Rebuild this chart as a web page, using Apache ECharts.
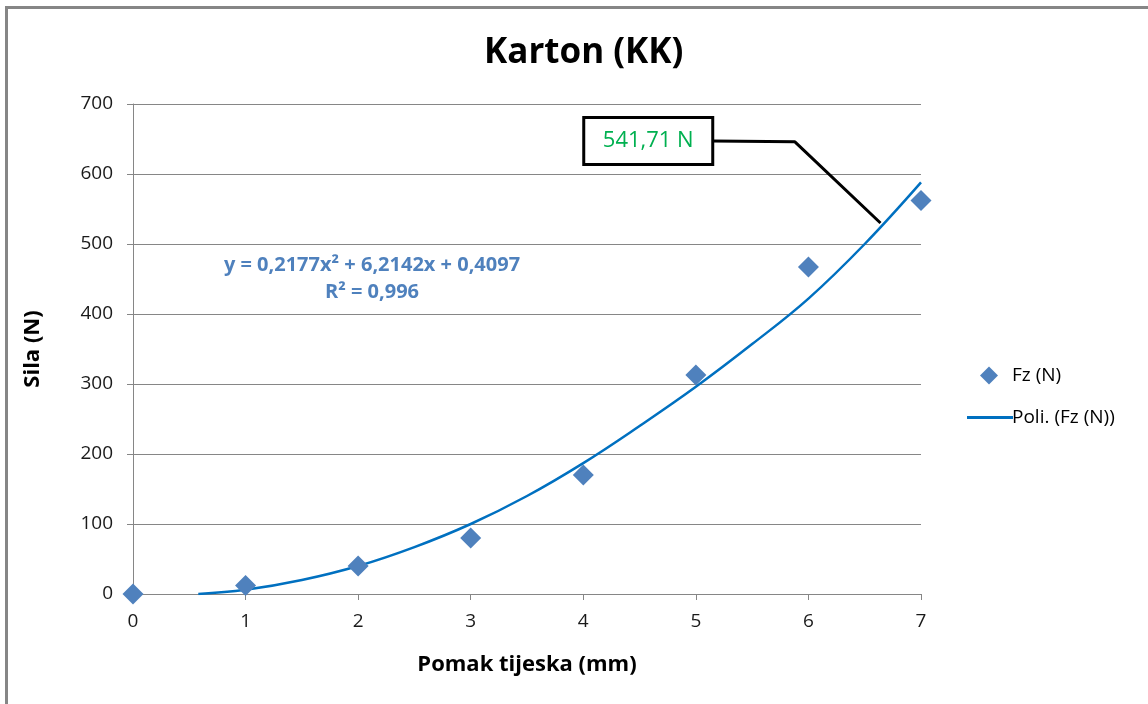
<!DOCTYPE html>
<html>
<head>
<meta charset="utf-8">
<script src="https://cdn.jsdelivr.net/npm/echarts@6/dist/echarts.min.js"></script>
<style>
  html, body { margin: 0; padding: 0; background: #fff; }
  #chart { width: 1148px; height: 704px; }
</style>
</head>
<body>
<div id="chart"></div>
<script>
// measured points
const pomak = [0, 1, 2, 3, 4, 5, 6, 7];
const sila = [0, 12, 40, 80, 170, 313, 467, 562];

// trendline
const trendX = [0.58, 1, 1.5, 2, 2.5, 3, 3.5, 4, 4.5, 5, 5.5, 6, 6.5, 7];
const trendY = [0, 6, 20, 40, 67, 100, 140, 187, 240, 296, 357, 422, 500, 588];

// leader line of the callout (box sits left of the first point)
const calloutX = [5.15, 5.88, 6.64];
const calloutY = [647, 646, 530];
const calloutText = '541,71 N';

const chart = echarts.init(document.getElementById('chart'));
const font = 'Open Sans';
const blue = '#4F81BD';
const gray = '#868686';

chart.setOption({
  animation: false,
  backgroundColor: '#fff',
  textStyle: { fontFamily: font },
  title: {
    text: 'Karton (KK)',
    left: 479,
    top: 31,
    textStyle: { fontSize: 35, fontWeight: 'bold', color: '#000', fontFamily: font }
  },
  grid: { left: 133, right: 227, top: 104, bottom: 110 },
  legend: [
    {
      orient: 'vertical',
      left: 975,
      top: 361,
      itemWidth: 18,
      itemHeight: 18,
      itemGap: 8,
      textStyle: { fontSize: 19, color: '#000', fontFamily: font, padding: [0, 0, 0, 9] },
      data: [{ name: 'Fz (N)', icon: 'diamond', itemStyle: { color: blue } }]
    },
    {
      orient: 'vertical',
      left: 962,
      top: 403,
      itemWidth: 46,
      itemHeight: 3,
      textStyle: { fontSize: 19, color: '#000', fontFamily: font, padding: [0, 0, 0, -6] },
      data: [{ name: 'Poli. (Fz (N))', icon: 'rect', itemStyle: { color: '#0070C0' } }]
    }
  ],
  xAxis: {
    type: 'value',
    min: 0, max: 7, interval: 1,
    name: 'Pomak tijeska (mm)',
    nameLocation: 'middle',
    nameGap: 60,
    nameTextStyle: { fontSize: 22, fontWeight: 'bold', color: '#000', fontFamily: font },
    axisLine: { show: true, lineStyle: { color: gray, width: 1 } },
    axisTick: { show: true, inside: false, length: 6, lineStyle: { color: gray } },
    axisLabel: { fontSize: 19, color: '#1a1a1a', margin: 18 },
    splitLine: { show: false }
  },
  yAxis: {
    type: 'value',
    min: 0, max: 700, interval: 100,
    name: 'Sila (N)',
    nameLocation: 'middle',
    nameGap: 89,
    nameTextStyle: { fontSize: 22, fontWeight: 'bold', color: '#000', fontFamily: font },
    axisLine: { show: true, lineStyle: { color: gray, width: 1 } },
    axisTick: { show: true, length: 6, lineStyle: { color: gray } },
    axisLabel: { fontSize: 19, color: '#1a1a1a', margin: 20 },
    splitLine: { show: true, lineStyle: { color: gray, width: 1 } }
  },
  series: [
    {
      name: 'Poli. (Fz (N))',
      type: 'line',
      data: trendX.map((x, i) => [x, trendY[i]]),
      smooth: 0.4,
      showSymbol: false,
      lineStyle: { color: '#0070C0', width: 2.5 },
      itemStyle: { color: '#0070C0' },
      z: 2
    },
    {
      name: 'Fz (N)',
      type: 'scatter',
      data: pomak.map((x, i) => [x, sila[i]]),
      symbol: 'diamond',
      symbolSize: 21,
      itemStyle: { color: blue, opacity: 1 },
      z: 3
    },
    {
      name: 'callout',
      type: 'line',
      data: calloutX.map((x, i) => [x, calloutY[i]]),
      showSymbol: false,
      symbol: 'none',
      lineStyle: { color: '#000', width: 3 },
      silent: true,
      z: 4
    }
  ]
});

// box of the callout, anchored to the leader's first point
const p = chart.convertToPixel({ gridIndex: 0 }, [calloutX[0], calloutY[0]]);
const boxW = 129, boxH = 47;
chart.setOption({
  graphic: [
    {
      type: 'rect',
      left: 4, top: 5,
      shape: { width: 1160, height: 720 },
      style: { fill: 'none', stroke: gray, lineWidth: 3 },
      silent: true
    },
    {
      type: 'text',
      style: {
        text: 'y = 0,2177x² + 6,2142x + 0,4097\nR² = 0,996',
        x: 372, y: 252,
        textAlign: 'center',
        fill: blue,
        font: 'bold 20px "Open Sans"',
        lineHeight: 27
      },
      silent: true
    },
    {
      type: 'rect',
      shape: { x: p[0] - boxW, y: p[1] - boxH / 2, width: boxW, height: boxH },
      style: { fill: '#fff', stroke: '#000', lineWidth: 3 },
      z: 10
    },
    {
      type: 'text',
      style: {
        text: calloutText,
        x: p[0] - boxW / 2, y: p[1],
        textAlign: 'center',
        textVerticalAlign: 'middle',
        fill: '#00B050',
        font: '22px "Open Sans"'
      },
      z: 11
    }
  ]
});
</script>
</body>
</html>
